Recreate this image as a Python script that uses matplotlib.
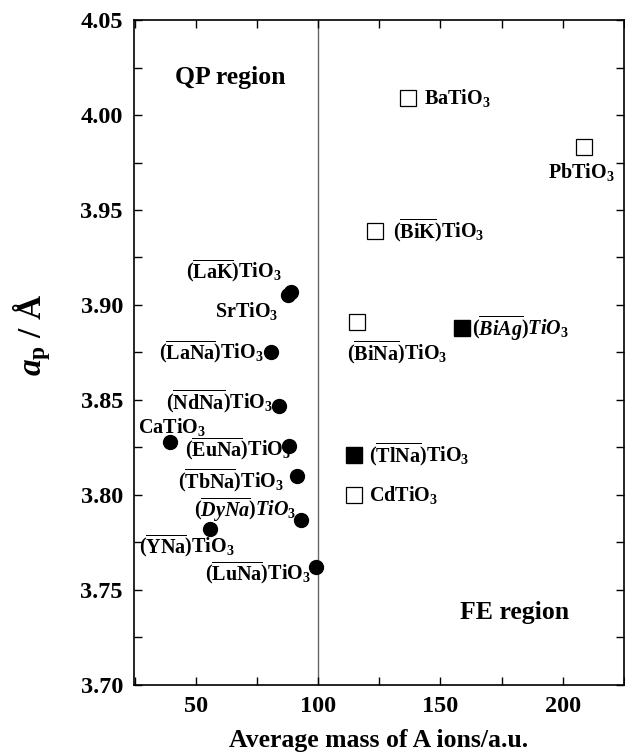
import matplotlib
matplotlib.use("Agg")
import matplotlib.pyplot as plt
from matplotlib.ticker import MultipleLocator

plt.rcParams['font.family'] = 'Liberation Serif'
plt.rcParams['font.weight'] = 'bold'
plt.rcParams['mathtext.fontset'] = 'custom'
plt.rcParams['mathtext.rm'] = 'Liberation Serif:bold'
plt.rcParams['mathtext.bf'] = 'Liberation Serif:bold'
plt.rcParams['mathtext.it'] = 'Liberation Serif:bold:italic'
plt.rcParams['mathtext.default'] = 'rm'

# QP-side compounds (filled circles)
circ_names = ['CaTiO3', 'SrTiO3', '(LaK)TiO3', '(LaNa)TiO3', '(NdNa)TiO3',
              '(EuNa)TiO3', '(TbNa)TiO3', '(DyNa)TiO3', '(YNa)TiO3', '(LuNa)TiO3']
circ_mass = [39.3, 87.6, 89.0, 80.7, 84.0, 88.0, 91.4, 93.0, 55.7, 99.0]
circ_ap = [3.828, 3.905, 3.907, 3.875, 3.847, 3.826, 3.810, 3.787, 3.782, 3.762]

# FE-side compounds (open squares)
open_names = ['BaTiO3', 'PbTiO3', '(BiK)TiO3', '(BiNa)TiO3', 'CdTiO3']
open_mass = [136.9, 208.6, 123.4, 116.0, 114.8]
open_ap = [4.009, 3.983, 3.939, 3.891, 3.800]

# filled squares
fill_names = ['(BiAg)TiO3', '(TlNa)TiO3']
fill_mass = [159.0, 114.8]
fill_ap = [3.888, 3.821]

# label text and placement (offset in pixels from the point, alignment)
labels = {
    'CaTiO3': (r'$\mathrm{CaTiO_3}$', 2, 15, 'center'),
    'SrTiO3': (r'$\mathrm{SrTiO_3}$', -9, -16, 'right'),
    '(LaK)TiO3': (r'$(\overline{\mathrm{LaK}})\mathrm{TiO_3}$', -9, 20, 'right'),
    '(LaNa)TiO3': (r'$(\overline{\mathrm{LaNa}})\mathrm{TiO_3}$', -7, 0, 'right'),
    '(NdNa)TiO3': (r'$(\overline{\mathrm{NdNa}})\mathrm{TiO_3}$', -6, 4, 'right'),
    '(EuNa)TiO3': (r'$(\overline{\mathrm{EuNa}})\mathrm{TiO_3}$', 2, -4, 'right'),
    '(TbNa)TiO3': (r'$(\overline{\mathrm{TbNa}})\mathrm{TiO_3}$', -13, -5, 'right'),
    '(DyNa)TiO3': (r'$\mathit{(\overline{DyNa})TiO_3}$', -5, 10, 'right'),
    '(YNa)TiO3': (r'$(\overline{\mathrm{YNa}})\mathrm{TiO_3}$', -23, -17, 'center'),
    '(LuNa)TiO3': (r'$(\overline{\mathrm{LuNa}})\mathrm{TiO_3}$', -5, -6, 'right'),
    'BaTiO3': (r'$\mathrm{BaTiO_3}$', 16, 0, 'left'),
    'PbTiO3': (r'$\mathrm{PbTiO_3}$', -2, -25, 'center'),
    '(BiK)TiO3': (r'$(\overline{\mathrm{BiK}})\mathrm{TiO_3}$', 18, 0, 'left'),
    '(BiNa)TiO3': (r'$(\overline{\mathrm{BiNa}})\mathrm{TiO_3}$', 40, -31, 'center'),
    'CdTiO3': (r'$\mathrm{CdTiO_3}$', 15, 0, 'left'),
    '(BiAg)TiO3': (r'$\mathit{(\overline{BiAg})TiO_3}$', 10, 0, 'left'),
    '(TlNa)TiO3': (r'$(\overline{\mathrm{TlNa}})\mathrm{TiO_3}$', 15, 0, 'left'),
}

fig = plt.figure(figsize=(6.25, 7.56), dpi=100)
ax = fig.add_axes([0.2144, 0.094, 0.7836, 0.8795])

ax.axvline(100, color='#666666', lw=1.0, zorder=1)

ax.plot(circ_mass, circ_ap, 'o', color='black', ms=10, zorder=3)
ax.plot(open_mass, open_ap, 's', mfc='white', mec='black', mew=0.9, ms=11, zorder=3)
ax.plot(fill_mass, fill_ap, 's', color='black', ms=11, zorder=3)

for names, xs, ys in [(circ_names, circ_mass, circ_ap),
                      (open_names, open_mass, open_ap),
                      (fill_names, fill_mass, fill_ap)]:
    for n, x, y in zip(names, xs, ys):
        txt, dx, dy, ha = labels[n]
        ax.annotate(txt, (x, y), xytext=(dx, dy), textcoords='offset pixels',
                    ha=ha, va='center', fontsize=14.5, zorder=2)

ax.text(64, 4.020, 'QP region', ha='center', va='center', fontsize=18.5, fontweight='bold')
ax.text(180.3, 3.738, 'FE region', ha='center', va='center', fontsize=18.5, fontweight='bold')

ax.set_xlim(24.6, 225)
ax.set_ylim(3.70, 4.05)
ax.xaxis.set_major_locator(MultipleLocator(50))
ax.xaxis.set_minor_locator(MultipleLocator(25))
ax.yaxis.set_major_locator(MultipleLocator(0.05))
ax.yaxis.set_minor_locator(MultipleLocator(0.025))
ax.yaxis.set_major_formatter(plt.FormatStrFormatter('%.2f'))
ax.tick_params(which='both', direction='in', top=True, right=True, labelsize=17.5,
               width=1, pad=8)
ax.tick_params(which='major', length=6)
ax.tick_params(which='minor', length=6)
for s in ax.spines.values():
    s.set_linewidth(1.2)

ax.set_xlabel('Average mass of A ions/a.u.', fontsize=18.5, fontweight='bold')
ax.xaxis.set_label_coords(0.5, -0.066)
ax.set_ylabel(r'$\mathit{a}_{\mathrm{p}}$ / Å', fontsize=24, fontweight='bold')
ax.yaxis.set_label_coords(-0.165, 0.526)

fig.savefig('out.png', dpi=100)
